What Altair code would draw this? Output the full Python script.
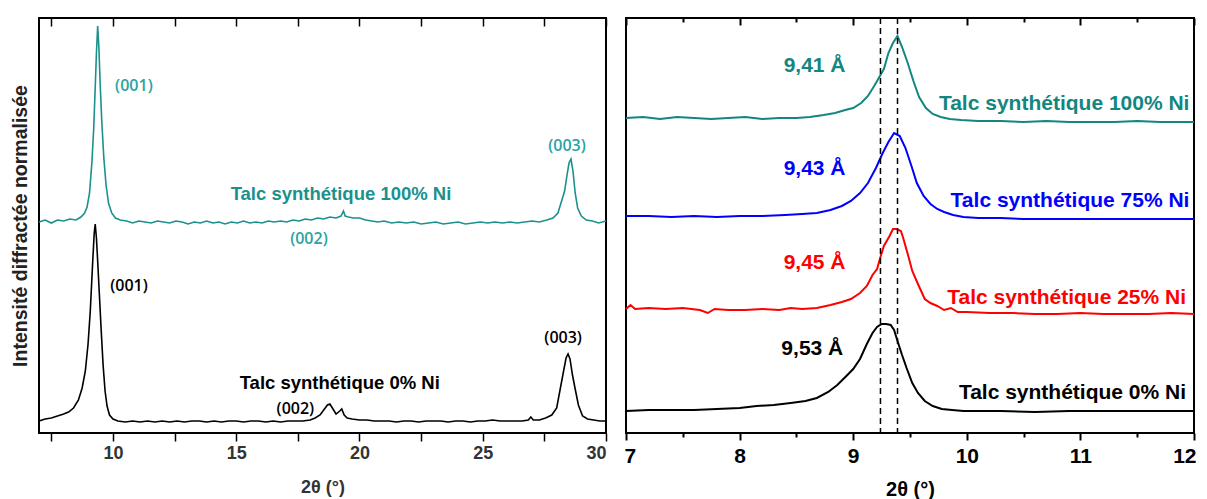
import altair as alt
import pandas as pd

FONT = "Liberation Sans"
TEAL_L = "#1b918d"
TEAL_LBL = "#2aa3a2"
TEAL_R = "#13867f"
BLUE = "#0000ff"
RED = "#ff0000"
BLACK = "#000000"

# ---------------- Left panel: full patterns (2theta 7-30) ----------------
left_teal_x = [7.0, 7.25, 7.5, 7.75, 8.0, 8.25, 8.5, 8.7, 8.85, 8.95, 9.05, 9.15, 9.22, 9.28, 9.33,
               9.38, 9.43, 9.48, 9.55, 9.63, 9.72, 9.82, 9.95, 10.1, 10.3, 10.55, 10.8, 11.05, 11.3,
               11.55, 11.8, 12.05, 12.3, 12.55, 12.8, 13.05, 13.3, 13.55, 13.8, 14.05, 14.3, 14.55,
               14.8, 15.05, 15.3, 15.55, 15.8, 16.05, 16.3, 16.55, 16.8, 17.05, 17.3, 17.55, 17.8,
               18.05, 18.3, 18.55, 18.8, 19.05, 19.25, 19.35, 19.42, 19.55, 19.75, 20.0, 20.25, 20.5,
               20.75, 21.0, 21.3, 21.6, 21.9, 22.2, 22.5, 22.8, 23.1, 23.4, 23.7, 24.0, 24.3, 24.6,
               24.9, 25.2, 25.5, 25.8, 26.1, 26.4, 26.7, 27.0, 27.3, 27.6, 27.85, 28.05, 28.2, 28.32,
               28.42, 28.5, 28.58, 28.66, 28.75, 28.85, 29.0, 29.2, 29.45, 29.7, 30.0]
left_teal_v = [211, 213, 210, 213, 212, 214, 213, 216, 220, 226, 240, 272, 305, 345, 380,
               407, 385, 350, 310, 275, 248, 230, 220, 215, 213, 212, 210, 212, 211,
               210, 212, 211, 210, 212, 211, 209, 211, 210, 212, 210, 211, 209,
               211, 210, 212, 210, 211, 210, 212, 211, 212, 211, 213, 212, 214,
               213, 215, 214, 216, 215, 217, 222, 217, 216, 215, 215, 213, 212,
               211, 212, 210, 211, 210, 211, 209, 210, 211, 209, 210, 211, 209, 210,
               211, 210, 211, 210, 211, 210, 211, 212, 211, 213, 215, 220, 232, 242,
               258, 270, 274, 262, 240, 225, 217, 213, 212, 210, 212]

left_black_x = [7.0, 7.25, 7.5, 7.75, 8.0, 8.2, 8.4, 8.6, 8.75, 8.88, 8.99, 9.08, 9.18, 9.24, 9.28,
                9.33, 9.38, 9.45, 9.52, 9.6, 9.68, 9.76, 9.86, 10.0, 10.2, 10.5, 10.8, 11.1, 11.4,
                11.7, 12.0, 12.3, 12.6, 12.9, 13.2, 13.5, 13.8, 14.1, 14.4, 14.7, 15.0, 15.3, 15.6,
                15.9, 16.2, 16.5, 16.8, 17.1, 17.4, 17.7, 18.0, 18.2, 18.4, 18.55, 18.7, 18.8, 18.9,
                19.05, 19.2, 19.28, 19.38, 19.5, 19.7, 20.0, 20.3, 20.6, 20.9, 21.2, 21.5, 21.8,
                22.1, 22.4, 22.7, 23.0, 23.3, 23.6, 23.9, 24.2, 24.5, 24.8, 25.1, 25.4, 25.7, 26.0,
                26.3, 26.6, 26.85, 26.95, 27.05, 27.3, 27.55, 27.8, 28.0, 28.15, 28.28, 28.38,
                28.46, 28.54, 28.64, 28.75, 28.88, 29.05, 29.25, 29.5, 29.75, 30.0]
left_black_v = [12, 14, 15, 17, 19, 21, 25, 33, 45, 62, 89, 122, 172, 200, 209,
                195, 172, 138, 104, 68, 42, 27, 18, 14, 12, 11, 12, 11, 12,
                11, 12, 11, 12, 11, 12, 12, 11, 12, 11, 12, 12, 11, 12,
                12, 11, 12, 11, 12, 12, 12, 13, 15, 18, 23, 28, 29, 25,
                19, 22, 24, 18, 15, 14, 13, 13, 12, 12, 12, 11, 12,
                12, 11, 12, 12, 12, 11, 12, 12, 11, 12, 12, 13, 12, 12,
                12, 12, 13, 16, 13, 13, 15, 18, 25, 45, 62, 75,
                79, 74, 58, 44, 28, 17, 14, 13, 12, 12]

left_hkl_labels = ["(001)", "(002)", "(003)", "(001)", "(002)", "(003)"]
left_hkl_x = [10.85, 17.95, 28.42, 10.65, 17.4, 28.26]
left_hkl_v = [347, 194, 287, 147, 24, 95]
left_hkl_colors = [TEAL_LBL, TEAL_LBL, TEAL_LBL, BLACK, BLACK, BLACK]

left_name_labels = ["Talc synthétique 100% Ni", "Talc synthétique 0% Ni"]
left_name_x = [19.25, 19.2]
left_name_v = [239, 50]
left_name_colors = [TEAL_L, BLACK]

left_ticks = [7.5, 10, 12.5, 15, 17.5, 20, 22.5, 25, 27.5, 30]

# ---------------- Right panel: zoom on (001) (2theta 7-12) ----------------
r100_x = [7.0, 7.15, 7.3, 7.45, 7.6, 7.75, 7.9, 8.05, 8.2, 8.35, 8.5, 8.62, 8.74, 8.84, 8.93, 9.0,
          9.07, 9.13, 9.19, 9.23, 9.27, 9.31, 9.35, 9.39, 9.43, 9.48, 9.53, 9.58, 9.64, 9.7, 9.77,
          9.85, 9.95, 10.1, 10.3, 10.5, 10.7, 10.9, 11.1, 11.3, 11.5, 11.7, 11.9, 12.0]
r100_v = [315, 316, 314, 316, 315, 314, 315, 316, 314, 315, 315, 316, 318, 320, 323, 325,
          330, 337, 348, 356, 364, 380, 390, 397, 386, 370, 352, 336, 325, 319, 316,
          314, 313, 312, 312, 311, 312, 311, 311, 311, 312, 311, 311, 311]

r75_x = [7.0, 7.2, 7.4, 7.6, 7.8, 8.0, 8.2, 8.4, 8.55, 8.68, 8.8, 8.9, 8.98, 9.06, 9.13, 9.2,
         9.26, 9.31, 9.36, 9.41, 9.46, 9.51, 9.56, 9.62, 9.68, 9.74, 9.8, 9.88, 9.97, 10.1, 10.3,
         10.5, 10.8, 11.1, 11.4, 11.7, 12.0]
r75_v = [217, 217, 216, 217, 216, 217, 217, 218, 219, 220, 223, 227, 232, 240, 250, 265,
         280, 291, 300, 297, 285, 268, 250, 237, 229, 224, 221, 218, 216, 215, 215,
         214, 214, 214, 214, 214, 214]

r25_x = [7.0, 7.04, 7.08, 7.2, 7.35, 7.5, 7.65, 7.72, 7.78, 7.9, 8.05, 8.2, 8.35, 8.45, 8.55,
         8.68, 8.8, 8.9, 8.98, 9.06, 9.12, 9.17, 9.21, 9.24, 9.27, 9.32, 9.35, 9.38, 9.42, 9.44,
         9.48, 9.52, 9.57, 9.63, 9.68, 9.74, 9.8, 9.86, 9.92, 10.0, 10.2, 10.4, 10.6, 10.8, 11.0,
         11.2, 11.4, 11.6, 11.8, 12.0]
r25_v = [124, 128, 124, 125, 124, 125, 123, 120, 124, 123, 123, 124, 123, 125, 124,
         125, 128, 131, 134, 140, 147, 158, 164, 176, 187, 197, 204, 204, 202, 195,
         179, 162, 149, 134, 130, 127, 123, 125, 121, 121, 120, 120, 119, 119, 120,
         119, 119, 119, 120, 119]

r0_x = [7.0, 7.2, 7.4, 7.6, 7.8, 8.0, 8.15, 8.3, 8.45, 8.58, 8.68, 8.78, 8.86, 8.94, 9.0, 9.06,
        9.12, 9.17, 9.21, 9.25, 9.29, 9.33, 9.36, 9.39, 9.43, 9.47, 9.52, 9.57, 9.63, 9.7, 9.78,
        9.87, 9.97, 10.1, 10.3, 10.6, 10.9, 11.2, 11.5, 11.8, 12.0]
r0_v = [22, 23, 23, 23, 24, 25, 27, 28, 30, 32, 35, 41, 48, 57, 64, 74,
        89, 100, 106, 109, 109, 108, 103, 92, 78, 65, 50, 40, 32, 27, 24,
        23, 22, 22, 22, 21, 22, 22, 22, 22, 22]

dashed_x = [9.24, 9.39]

right_d_labels = ["9,41 Å", "9,43 Å", "9,45 Å", "9,53 Å"]
right_d_x = [8.66, 8.66, 8.66, 8.64]
right_d_v = [367, 264, 170, 84]
right_d_colors = [TEAL_R, BLUE, RED, BLACK]

right_name_labels = ["Talc synthétique 100% Ni", "Talc synthétique 75% Ni",
                     "Talc synthétique 25% Ni", "Talc synthétique 0% Ni"]
right_name_x = [11.96, 11.96, 11.93, 11.93]
right_name_v = [329, 232, 135, 40]
right_name_colors = [TEAL_R, BLUE, RED, BLACK]

right_major = [7, 8, 9, 10, 11, 12]
right_minor = [7.5, 8.5, 9.5, 10.5, 11.5]

# ---------------- tables ----------------
def series_df(items):
    rows = []
    for name, color, xs, vs in items:
        for i, (a, b) in enumerate(zip(xs, vs)):
            rows.append({"x": a, "v": b, "series": name, "color": color, "i": i})
    return pd.DataFrame(rows)

def text_df(labels, xs, vs, colors):
    return pd.DataFrame({"label": labels, "x": xs, "v": vs, "color": colors})

left_df = series_df([("100", TEAL_L, left_teal_x, left_teal_v),
                     ("0", BLACK, left_black_x, left_black_v)])
right_df = series_df([("100", TEAL_R, r100_x, r100_v), ("75", BLUE, r75_x, r75_v),
                      ("25", RED, r25_x, r25_v), ("0", BLACK, r0_x, r0_v)])

H = 415
ys = alt.Scale(domain=[0, 415], nice=False, zero=False)

# ---------------- left chart ----------------
xs_l = alt.Scale(domain=[7, 30], nice=False, zero=False)

left_bottom = alt.Axis(orient="bottom", values=left_ticks, format="d",
                       labelExpr="datum.value % 5 == 0 ? datum.label : ''",
                       tickSize=8, tickWidth=1.5, tickColor="black", domain=False, grid=False,
                       labelFont=FONT, labelFontSize=18, labelFontWeight="bold", labelColor="#333333",
                       labelPadding=3, labelOverlap=False,
                       title="2θ (°)", titleFont=FONT, titleFontSize=18, titleFontWeight="bold",
                       titleColor="#333333", titlePadding=16)
left_top = alt.Axis(orient="top", values=left_ticks, tickSize=8, tickWidth=1.5, tickColor="black",
                    offset=-8, labels=False, domain=False, grid=False, title=None)
left_y = alt.Axis(orient="left", title="Intensité diffractée normalisée", labels=False, ticks=False,
                  domain=False, grid=False, titleFont=FONT, titleFontSize=19.5, titleFontWeight="bold",
                  titleColor="#222222", titlePadding=9)

l_lines = alt.Chart(left_df).mark_line(strokeWidth=1.6).encode(
    x=alt.X("x:Q", scale=xs_l, axis=left_bottom),
    y=alt.Y("v:Q", scale=ys, axis=left_y),
    color=alt.Color("color:N", scale=None),
    detail="series:N",
    order="i:Q",
)
l_hkl = alt.Chart(text_df(left_hkl_labels, left_hkl_x, left_hkl_v, left_hkl_colors)).mark_text(
    font="Open Sans", fontSize=16, fontWeight=600, baseline="middle", align="center"
).encode(
    x=alt.X("x:Q", scale=xs_l, axis=left_top),
    y=alt.Y("v:Q", scale=ys, axis=None),
    text="label:N",
    color=alt.Color("color:N", scale=None),
)
l_names = alt.Chart(text_df(left_name_labels, left_name_x, left_name_v, left_name_colors)).mark_text(
    font=FONT, fontSize=18.5, fontWeight="bold", baseline="middle", align="center"
).encode(
    x=alt.X("x:Q", scale=xs_l, axis=None),
    y=alt.Y("v:Q", scale=ys, axis=None),
    text="label:N",
    color=alt.Color("color:N", scale=None),
)
left = alt.layer(l_lines, l_hkl, l_names).resolve_axis(x="independent", y="independent").properties(
    width=567, height=H)

# ---------------- right chart ----------------
xs_r = alt.Scale(domain=[7, 12], nice=False, zero=False)

r_bottom_major = alt.Axis(orient="bottom", values=right_major, format="d", tickSize=7, tickWidth=2,
                          tickColor="black", domain=False, grid=False, labelFont=FONT, labelFontSize=21,
                          labelFontWeight="bold", labelColor="black", labelPadding=5,
                          labelFlush=True, labelFlushOffset=2, labelOverlap=False,
                          title="2θ (°)", titleFont=FONT, titleFontSize=20, titleFontWeight="bold",
                          titleColor="black", titlePadding=13)
r_bottom_minor = alt.Axis(orient="bottom", values=right_minor, tickSize=4, tickWidth=2, tickColor="black",
                          labels=False, domain=False, grid=False, title=None)
r_top_major = alt.Axis(orient="top", values=right_major, tickSize=7, tickWidth=2, tickColor="black",
                       offset=-7, labels=False, domain=False, grid=False, title=None)
r_top_minor = alt.Axis(orient="top", values=right_minor, tickSize=4, tickWidth=2, tickColor="black",
                       offset=-4, labels=False, domain=False, grid=False, title=None)

r_lines = alt.Chart(right_df).mark_line(strokeWidth=2).encode(
    x=alt.X("x:Q", scale=xs_r, axis=r_bottom_major),
    y=alt.Y("v:Q", scale=ys, axis=None),
    color=alt.Color("color:N", scale=None),
    detail="series:N",
    order="i:Q",
)
r_dash = alt.Chart(pd.DataFrame({"x": dashed_x})).mark_rule(
    color="black", strokeWidth=1.5, strokeDash=[6, 4]
).encode(x=alt.X("x:Q", scale=xs_r, axis=r_bottom_minor))
r_d = alt.Chart(text_df(right_d_labels, right_d_x, right_d_v, right_d_colors)).mark_text(
    font=FONT, fontSize=21, fontWeight="bold", baseline="middle", align="center"
).encode(
    x=alt.X("x:Q", scale=xs_r, axis=r_top_major),
    y=alt.Y("v:Q", scale=ys, axis=None),
    text="label:N",
    color=alt.Color("color:N", scale=None),
)
r_names = alt.Chart(text_df(right_name_labels, right_name_x, right_name_v, right_name_colors)).mark_text(
    font=FONT, fontSize=21, fontWeight="bold", baseline="middle", align="right"
).encode(
    x=alt.X("x:Q", scale=xs_r, axis=r_top_minor),
    y=alt.Y("v:Q", scale=ys, axis=None),
    text="label:N",
    color=alt.Color("color:N", scale=None),
)
right = alt.layer(r_lines, r_dash, r_d, r_names).resolve_axis(x="independent", y="independent").properties(
    width=568, height=H)

chart = alt.hconcat(left, right, spacing=10).properties(
    padding={"left": 1, "top": 8, "right": 0, "bottom": 0},
    background="white",
).configure_view(stroke="black", strokeWidth=2)

chart.save("out.html", embed_options={"renderer": "svg", "actions": False})
